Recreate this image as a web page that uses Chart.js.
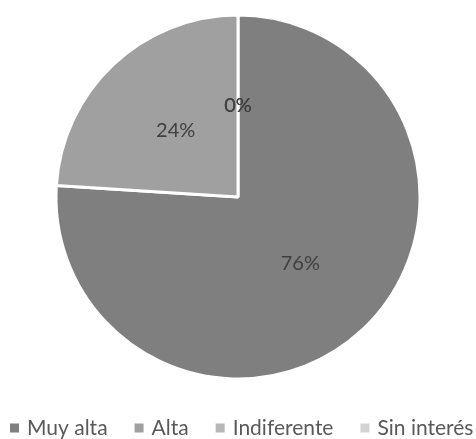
<!DOCTYPE html>
<html>
<head>
<meta charset="utf-8">
<script src="https://cdn.jsdelivr.net/npm/chart.js@4/dist/chart.umd.min.js"></script>
<style>
  html, body { margin: 0; padding: 0; background: #fff; }
  #wrap { width: 476px; height: 439px; }
</style>
</head>
<body>
<div id="wrap"><canvas id="chart" width="476" height="439"></canvas></div>
<script>
const categories = ["Muy alta", "Alta", "Indiferente", "Sin interés"];
const percents = [76, 24, 0, 0];
const sliceColors = ["#7f7f7f", "#a0a0a0", "#b7b7b7", "#d3d3d3"];

// percentage labels inside the slices, halfway out
const sliceLabels = {
    id: "sliceLabels",
    afterDatasetsDraw(chart) {
        const ctx = chart.ctx;
        const meta = chart.getDatasetMeta(0);
        ctx.save();
        ctx.font = "20px Lato";
        ctx.fillStyle = "#404040";
        ctx.textAlign = "center";
        ctx.textBaseline = "middle";
        meta.data.forEach((arc, i) => {
            const mid = (arc.startAngle + arc.endAngle) / 2;
            const r = arc.outerRadius * 0.5;
            ctx.fillText(percents[i] + "%", arc.x + Math.cos(mid) * r, arc.y + Math.sin(mid) * r);
        });
        ctx.restore();
    }
};

// one-row legend along the bottom (built-in one wraps at this width)
const bottomLegend = {
    id: "bottomLegend",
    afterDraw(chart) {
        const ctx = chart.ctx;
        const items = chart.legend.legendItems;
        ctx.save();
        ctx.font = "21px Lato";
        ctx.textBaseline = "middle";
        const gap = 27;
        let x = 10;
        const y = 428;
        items.forEach(item => {
            ctx.fillStyle = item.fillStyle;
            ctx.fillRect(x, y - 4.5, 9, 9);
            x += 17;
            ctx.fillStyle = "#595959";
            ctx.fillText(item.text, x, y);
            x += ctx.measureText(item.text).width + gap;
        });
        ctx.restore();
    }
};

new Chart(document.getElementById("chart"), {
    type: "pie",
    data: {
        labels: categories,
        datasets: [{
            data: percents,
            backgroundColor: sliceColors,
            borderColor: "#ffffff",
            borderWidth: 3,
            radius: 182
        }]
    },
    options: {
        responsive: false,
        animation: false,
        layout: { padding: { top: 15, bottom: 60 } },
        plugins: {
            tooltip: { enabled: false },
            legend: { display: false }
        }
    },
    plugins: [sliceLabels, bottomLegend]
});
</script>
</body>
</html>
